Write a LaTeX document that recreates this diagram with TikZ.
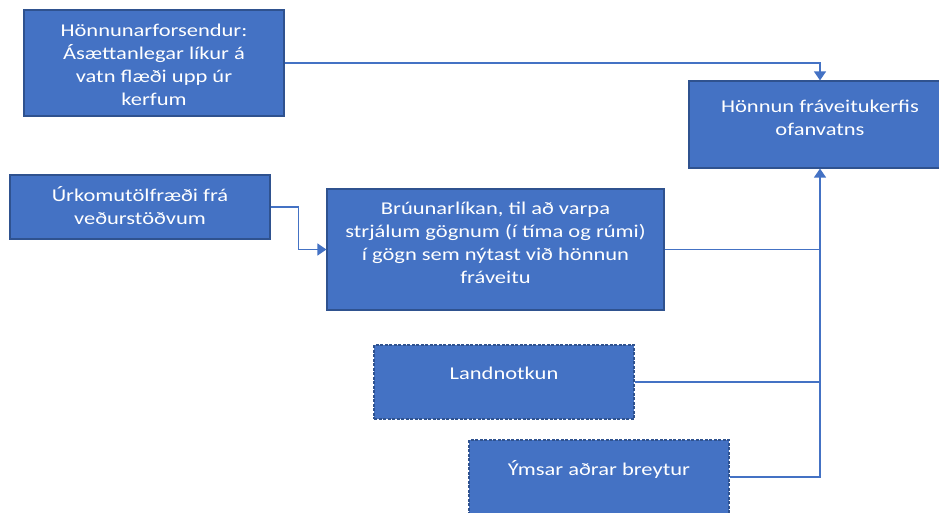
\documentclass[tikz,border=0pt]{standalone}
\usepackage{fontspec}
\setmainfont{Carlito}[FakeStretch=1.25]
\usetikzlibrary{positioning}
\usetikzlibrary{arrows.meta}
\definecolor{boxblue}{HTML}{4472C4}
\definecolor{edgeblue}{HTML}{2F528F}

\begin{document}
\begin{tikzpicture}[x=1pt, y=-1pt,
  box/.style={draw=edgeblue, fill=boxblue, line width=1.2pt, rectangle, inner sep=0pt},
  dbox/.style={box, dash pattern=on 3pt off 1.5pt},
  txt/.style={text=white, align=center, inner sep=0pt, font=\fontsize{18}{23}\selectfont},
  conn/.style={draw=boxblue, line width=1.4pt},
  >={Triangle[width=12pt,length=9pt]}]
  \useasboundingbox (0,0) rectangle (939,513);
  \clip (0,0) rectangle (939,513);
  % Kassar
  \node[box, minimum width=260pt, minimum height=106pt] (forsendur) at (154,63) {};
  \node[box, minimum width=260pt, minimum height=64pt] (urkoma) at (140,207) {};
  \node[box, minimum width=337pt, minimum height=121pt] (bru) at (495.5,249.5) {};
  \node[box, minimum width=262pt, minimum height=87pt] (honnun) at (820,124.5) {};
  \node[dbox, minimum width=260pt, minimum height=74pt] (land) at (504,382) {};
  \node[dbox, minimum width=260pt, minimum height=74pt] (ymsar) at (599,477) {};

  % Texti
  \node[txt, below=14pt of forsendur.north] {Hönnunarforsendur:\\Ásættanlegar líkur á\\vatn flæði upp úr\\kerfum};
  \node[txt, below=12pt of urkoma.north] {Úrkomutölfræði frá\\veðurstöðvum};
  \node[txt, below=13pt of bru.north] {Brúunarlíkan, til að varpa\\strjálum gögnum (í tíma og rúmi)\\í gögn sem nýtast við hönnun\\fráveitu};
  \node[txt, below=19pt of honnun.north] {Hönnun fráveitukerfis\\ofanvatns};
  \node[txt, below=22pt of land.north] {Landnotkun};
  \node[txt, below=21pt of ymsar.north] {Ýmsar aðrar breytur};

  % Tengingar
  \draw[->, conn] (forsendur.east) -| (honnun.north);
  \draw[->, conn] (urkoma.east) -- ++(28,0) |- (bru.west);
  \draw[conn] (bru.east) -- (bru.east -| honnun.south);
  \draw[conn] (land.east) -- (land.east -| honnun.south);
  \draw[->, conn] (ymsar.east) -| (honnun.south);
\end{tikzpicture}
\end{document}
